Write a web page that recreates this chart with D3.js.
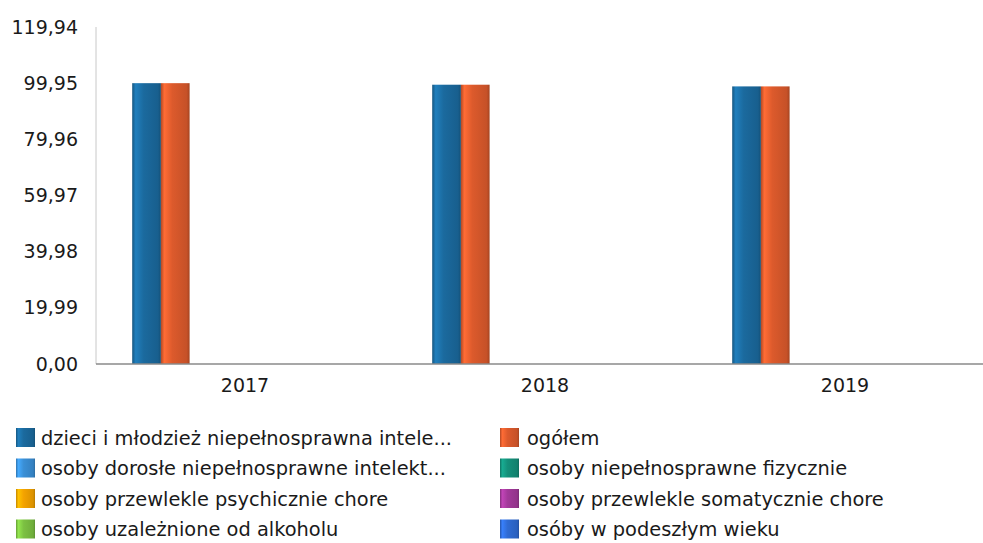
<!DOCTYPE html>
<html><head><meta charset="utf-8">
<script src="https://cdn.jsdelivr.net/npm/d3@7"></script>
<style>body{margin:0;background:#fff}svg{display:block}text{font-family:"DejaVu Sans",sans-serif;fill:#1a1a1a}</style>
</head><body>
<svg id="c" width="983" height="543"></svg>
<script>
const years = ["2017","2018","2019"];
const seriesNames = [
  "dzieci i młodzież niepełnosprawna intele...",
  "ogółem",
  "osoby dorosłe niepełnosprawne intelekt...",
  "osoby niepełnosprawne fizycznie",
  "osoby przewlekle psychicznie chore",
  "osoby przewlekle somatycznie chore",
  "osoby uzależnione od alkoholu",
  "osóby w podeszłym wieku"
];
const seriesColors = ["#1b6a9e","#dc5a2c","#3a8fd6","#14907a","#f4a300","#a2399a","#7cc142","#2f6bd3"];
const values = [
  [99.95, 99.40, 98.80],
  [99.95, 99.40, 98.80],
  [0, 0, 0],
  [0, 0, 0],
  [0, 0, 0],
  [0, 0, 0],
  [0, 0, 0],
  [0, 0, 0]
];
const yTicks = [0, 19.99, 39.98, 59.97, 79.96, 99.95, 119.94];

const svg = d3.select("#c");
const mL = 96, mR = 996, mT = 27, mB = 364;
const y = d3.scaleLinear().domain([0, 119.94]).range([mB, mT]);
const x0 = d3.scaleBand().domain(years).range([mL, mR]).paddingInner(0).paddingOuter(0);
const x1 = d3.scaleBand().domain(d3.range(seriesNames.length)).range([0, 8*28.7]);

const defs = svg.append("defs");
seriesColors.forEach((c, i) => {
  const g = defs.append("linearGradient").attr("id", "g"+i).attr("x1","0").attr("x2","1").attr("y1","0").attr("y2","0");
  const col = d3.color(c);
  g.append("stop").attr("offset","0%").attr("stop-color", col.darker(0.6));
  g.append("stop").attr("offset","12%").attr("stop-color", col.brighter(0.5));
  g.append("stop").attr("offset","40%").attr("stop-color", col);
  g.append("stop").attr("offset","90%").attr("stop-color", col.darker(0.3));
  g.append("stop").attr("offset","100%").attr("stop-color", col.darker(0.8));
});

// y axis line
svg.append("line").attr("x1", mL).attr("x2", mL).attr("y1", mT).attr("y2", mB)
  .attr("stroke", "#c8c8c8").attr("stroke-width", 1);

// y tick labels
const fmt = v => v.toFixed(2).replace(".", ",");
svg.append("g").selectAll("text").data(yTicks).join("text")
  .attr("x", 78).attr("y", d => y(d)).attr("dy", "0.35em")
  .attr("text-anchor", "end").attr("font-size", 19).text(fmt);

// bars
const groupW = 8*28.7;
const grp = svg.append("g").selectAll("g").data(years).join("g")
  .attr("transform", d => `translate(${x0(d) + x0.bandwidth()/2 - groupW/2 + 1},0)`);
grp.selectAll("rect").data((d, yi) => values.map((s, si) => ({si, v: s[yi]}))).join("rect")
  .attr("x", d => x1(d.si)).attr("width", x1.bandwidth())
  .attr("y", d => y(d.v)).attr("height", d => mB - y(d.v))
  .attr("fill", d => `url(#g${d.si})`);

// baseline
svg.append("line").attr("x1", mL).attr("x2", 983).attr("y1", mB).attr("y2", mB)
  .attr("stroke", "#8a8a8a").attr("stroke-width", 1.5);

// x labels
svg.append("g").selectAll("text").data(years).join("text")
  .attr("x", d => x0(d) + x0.bandwidth()/2 - 1).attr("y", 392)
  .attr("text-anchor", "middle").attr("font-size", 19).text(d => d);

// legend
const leg = svg.append("g").selectAll("g").data(seriesNames).join("g")
  .attr("transform", (d, i) => `translate(${i % 2 ? 500 : 16},${428 + Math.floor(i/2)*30.5})`);
leg.append("rect").attr("width", 19).attr("height", 19).attr("fill", (d, i) => `url(#g${i})`);
leg.append("text").attr("x", (d, i) => i % 2 ? 27 : 25).attr("y", 10).attr("dy", "0.35em")
  .attr("font-size", 19.4).text(d => d);
</script>
</body></html>
